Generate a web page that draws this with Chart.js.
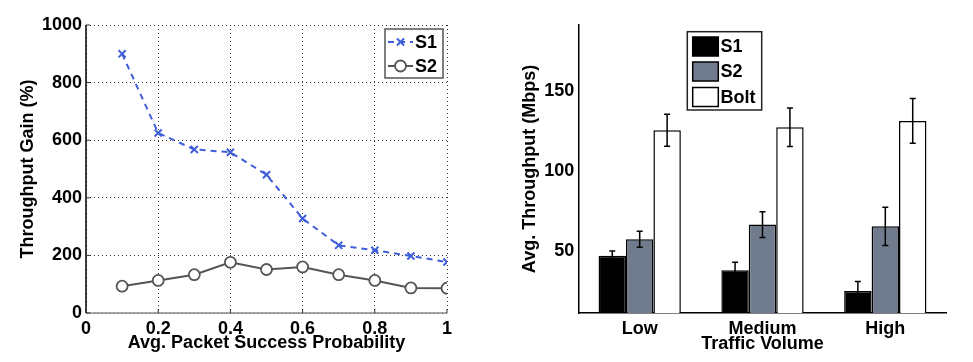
<!DOCTYPE html>
<html>
<head>
<meta charset="utf-8">
<script src="https://cdn.jsdelivr.net/npm/chart.js@4.4.1/dist/chart.umd.min.js"></script>
<style>
  body { margin: 0; background: #fff; }
  #w1 { position: absolute; left: 0; top: 0; width: 480px; height: 362px; }
  #w2 { position: absolute; left: 480px; top: 0; width: 493px; height: 362px; }
</style>
</head>
<body>
<div id="w1"><canvas id="c1" width="480" height="362"></canvas></div>
<div id="w2"><canvas id="c2" width="493" height="362"></canvas></div>
<script>
// ---------- data: left chart ----------
const probX = [0.1, 0.2, 0.3, 0.4, 0.5, 0.6, 0.7, 0.8, 0.9, 1.0];
const gainS1 = [900, 625, 568, 558, 480, 328, 235, 218, 198, 177];
const gainS2 = [93, 113, 133, 176, 151, 160, 133, 113, 87, 86];
const leftSeriesNames = ['S1', 'S2'];
const leftXTicks = [0, 0.2, 0.4, 0.6, 0.8, 1];
const leftYTicks = [0, 200, 400, 600, 800, 1000];

// ---------- data: right chart ----------
const trafficCats = ['Low', 'Medium', 'High'];
const thrS1 = [47, 38, 25];
const thrS2 = [57.3, 66.5, 65.4];
const thrBolt = [125.4, 127.3, 131.3];
const errS1 = [3, 5, 6];
const errS2 = [5, 8, 12];
const errBolt = [10, 12, 14];
const rightSeriesNames = ['S1', 'S2', 'Bolt'];
const rightYTicks = [50, 100, 150];

const FONT = "'Liberation Sans', Arial, Helvetica, sans-serif";
const boldFont = { family: FONT, size: 18, weight: 'bold' };

// ---------- plugins ----------
const errorBarPlugin = {
  id: 'errorBars',
  afterDatasetsDraw(chart, args, opts) {
    const ctx = chart.ctx;
    const yScale = chart.scales.y;
    ctx.save();
    ctx.strokeStyle = '#000';
    ctx.lineWidth = 1.5;
    chart.data.datasets.forEach((ds, i) => {
      if (!ds.errors) return;
      const meta = chart.getDatasetMeta(i);
      meta.data.forEach((el, j) => {
        const v = ds.data[j], e = ds.errors[j];
        const yt = yScale.getPixelForValue(v + e);
        const yb = yScale.getPixelForValue(v - e);
        const x = el.x;
        const cap = opts.cap || 3;
        ctx.beginPath();
        ctx.moveTo(x, yt); ctx.lineTo(x, yb);
        ctx.moveTo(x - cap, yt); ctx.lineTo(x + cap, yt);
        ctx.moveTo(x - cap, yb); ctx.lineTo(x + cap, yb);
        ctx.stroke();
      });
    });
    ctx.restore();
  }
};

const boxLegendPlugin = {
  id: 'boxLegend',
  afterDraw(chart, args, o) {
    const ctx = chart.ctx;
    ctx.save();
    ctx.fillStyle = '#fff';
    ctx.fillRect(o.x, o.y, o.w, o.h);
    ctx.strokeStyle = o.borderColor || '#444';
    ctx.lineWidth = 1.5;
    ctx.strokeRect(o.x, o.y, o.w, o.h);
    ctx.font = 'bold 18px ' + FONT;
    ctx.textBaseline = 'middle';
    ctx.textAlign = 'left';
    chart.data.datasets.forEach((ds, i) => {
      const cy = o.rows[i];
      if (o.kind === 'line') {
        ctx.save();
        ctx.strokeStyle = ds.borderColor;
        ctx.lineWidth = ds.borderWidth;
        ctx.setLineDash(ds.borderDash || []);
        ctx.beginPath();
        ctx.moveTo(o.sx0, cy); ctx.lineTo(o.sx1, cy);
        ctx.stroke();
        ctx.restore();
        ctx.save();
        ctx.fillStyle = ds.pointBackgroundColor || 'rgba(0,0,0,0)';
        ctx.strokeStyle = ds.pointBorderColor || ds.borderColor;
        ctx.lineWidth = ds.pointBorderWidth;
        Chart.helpers.drawPoint(ctx, {
          pointStyle: ds.pointStyle, radius: ds.pointRadius,
          borderWidth: ds.pointBorderWidth, rotation: 0
        }, (o.sx0 + o.sx1) / 2, cy);
        ctx.restore();
      } else {
        ctx.save();
        ctx.fillStyle = ds.backgroundColor;
        ctx.strokeStyle = '#000';
        ctx.lineWidth = 1.5;
        ctx.fillRect(o.sx0, cy - o.sh / 2, o.sx1 - o.sx0, o.sh);
        ctx.strokeRect(o.sx0, cy - o.sh / 2, o.sx1 - o.sx0, o.sh);
        ctx.restore();
      }
      ctx.fillStyle = '#000';
      ctx.fillText(ds.label, o.tx, cy + 1);
    });
    ctx.restore();
  }
};

const solidAxisPlugin = {
  id: 'solidAxis',
  afterDatasetsDraw(chart, args, o) {
    const a = chart.chartArea, ctx = chart.ctx;
    ctx.save();
    ctx.lineWidth = 1.5;
    ctx.strokeStyle = '#888';
    ctx.beginPath(); ctx.moveTo(a.left, a.bottom); ctx.lineTo(a.right, a.bottom); ctx.stroke();
    ctx.strokeStyle = '#000';
    ctx.beginPath(); ctx.moveTo(a.left, a.top); ctx.lineTo(a.left, a.bottom); ctx.stroke();
    // inward tick marks
    ctx.lineWidth = 1;
    ctx.strokeStyle = '#333';
    const ys = chart.scales.y, xs = chart.scales.x;
    leftYTicks.forEach(v => {
      const y = ys.getPixelForValue(v);
      ctx.beginPath(); ctx.moveTo(a.left, y); ctx.lineTo(a.left + 4, y); ctx.stroke();
    });
    leftXTicks.forEach(v => {
      const x = xs.getPixelForValue(v);
      ctx.beginPath(); ctx.moveTo(x, a.bottom); ctx.lineTo(x, a.bottom - 4); ctx.stroke();
    });
    ctx.restore();
  }
};

// ---------- left chart ----------
new Chart(document.getElementById('c1'), {
  type: 'line',
  data: {
    datasets: [
      {
        label: leftSeriesNames[0],
        data: probX.map((x, i) => ({ x, y: gainS1[i] })),
        borderColor: '#3f5fd8', borderWidth: 2, borderDash: [6, 5],
        pointStyle: 'crossRot', pointRadius: 5, pointBorderWidth: 2,
        pointBorderColor: '#3f5fd8', pointBackgroundColor: '#3f5fd8',
        fill: false, tension: 0
      },
      {
        label: leftSeriesNames[1],
        data: probX.map((x, i) => ({ x, y: gainS2[i] })),
        borderColor: '#555', borderWidth: 2,
        pointStyle: 'circle', pointRadius: 5.5, pointBorderWidth: 1.8,
        pointBorderColor: '#555', pointBackgroundColor: '#fff',
        fill: false, tension: 0
      }
    ]
  },
  options: {
    responsive: false, animation: false,
    layout: { padding: { left: 0, right: 33, top: 25, bottom: 0 } },
    plugins: {
      legend: { display: false }, tooltip: { enabled: false },
      boxLegend: { kind: 'line', x: 385, y: 29, w: 58, h: 49, rows: [42, 66], sx0: 388, sx1: 413, tx: 415, borderColor: '#555' }
    },
    scales: {
      x: {
        type: 'linear', min: 0, max: 1,
        afterBuildTicks: s => { s.ticks = leftXTicks.map(v => ({ value: v })); },
        afterFit: s => { s.height = 49; },
        ticks: { font: boldFont, color: '#000', padding: 5, maxRotation: 0,
          callback: v => (v === 0 || v === 1) ? String(v) : v.toFixed(1) },
        grid: { color: '#333', lineWidth: 1, drawTicks: false },
        border: { display: false, dash: [1, 3] },
        title: { display: true, text: 'Avg. Packet Success Probability', font: boldFont, color: '#000', padding: { top: 0, bottom: 8 } }
      },
      y: {
        min: 0, max: 1000,
        afterBuildTicks: s => { s.ticks = leftYTicks.map(v => ({ value: v })); },
        afterFit: s => { s.width = 86; },
        ticks: { font: boldFont, color: '#000', padding: 4, callback: v => String(v) },
        grid: { color: '#333', lineWidth: 1, drawTicks: false },
        border: { display: false, dash: [1, 3] },
        title: { display: true, text: 'Throughput Gain (%)', font: boldFont, color: '#000', padding: { top: 17, bottom: 0 } }
      }
    }
  },
  plugins: [solidAxisPlugin, boxLegendPlugin]
});

// ---------- right chart ----------
new Chart(document.getElementById('c2'), {
  type: 'bar',
  data: {
    labels: trafficCats,
    datasets: [
      { label: rightSeriesNames[0], data: thrS1, errors: errS1, backgroundColor: '#000', borderColor: '#000', borderWidth: 1.5 },
      { label: rightSeriesNames[1], data: thrS2, errors: errS2, backgroundColor: '#717b8e', borderColor: '#000', borderWidth: 1.5 },
      { label: rightSeriesNames[2], data: thrBolt, errors: errBolt, backgroundColor: '#fff', borderColor: '#000', borderWidth: 1.5 }
    ]
  },
  options: {
    responsive: false, animation: false,
    layout: { padding: { left: 0, right: 26.3, top: 25, bottom: 0 } },
    datasets: { bar: { categoryPercentage: 0.67, barPercentage: 1 } },
    plugins: {
      legend: { display: false }, tooltip: { enabled: false },
      errorBars: { cap: 3 },
      boxLegend: { kind: 'bar', x: 207.3, y: 31.7, w: 74.4, h: 78.3, rows: [46.5, 71.5, 97], sx0: 212.7, sx1: 238.3, sh: 19, tx: 240.5, borderColor: '#222' }
    },
    scales: {
      x: {
        afterFit: s => { s.height = 49; },
        ticks: { font: boldFont, color: '#000', padding: 5 },
        grid: { display: false, drawTicks: false },
        border: { display: true, color: '#000', width: 1.5 },
        title: { display: true, text: 'Traffic Volume', font: boldFont, color: '#000', padding: { top: 0, bottom: 7 } }
      },
      y: {
        min: 11.25, max: 191.25,
        afterBuildTicks: s => { s.ticks = rightYTicks.map(v => ({ value: v })); },
        afterFit: s => { s.width = 98.3; },
        ticks: { font: boldFont, color: '#000', padding: 4 },
        grid: { display: false, drawTicks: false },
        border: { display: true, color: '#000', width: 1.5 },
        title: { display: true, text: 'Avg. Throughput (Mbps)', font: boldFont, color: '#000', padding: { top: 39, bottom: 0 } }
      }
    }
  },
  plugins: [errorBarPlugin, boxLegendPlugin]
});
</script>
</body>
</html>
